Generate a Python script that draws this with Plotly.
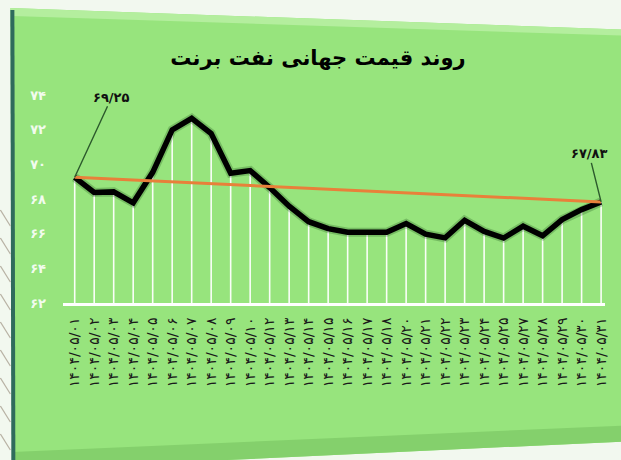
import plotly.graph_objects as go

# Brent crude daily price, Mordad 1404 (USD per barrel)
dates = [
    "۱۴۰۴/۰۵/۰۱", "۱۴۰۴/۰۵/۰۲", "۱۴۰۴/۰۵/۰۳", "۱۴۰۴/۰۵/۰۴", "۱۴۰۴/۰۵/۰۵",
    "۱۴۰۴/۰۵/۰۶", "۱۴۰۴/۰۵/۰۷", "۱۴۰۴/۰۵/۰۸", "۱۴۰۴/۰۵/۰۹", "۱۴۰۴/۰۵/۱۰",
    "۱۴۰۴/۰۵/۱۲", "۱۴۰۴/۰۵/۱۳", "۱۴۰۴/۰۵/۱۴", "۱۴۰۴/۰۵/۱۵", "۱۴۰۴/۰۵/۱۶",
    "۱۴۰۴/۰۵/۱۷", "۱۴۰۴/۰۵/۱۸", "۱۴۰۴/۰۵/۲۰", "۱۴۰۴/۰۵/۲۱", "۱۴۰۴/۰۵/۲۲",
    "۱۴۰۴/۰۵/۲۳", "۱۴۰۴/۰۵/۲۴", "۱۴۰۴/۰۵/۲۵", "۱۴۰۴/۰۵/۲۷", "۱۴۰۴/۰۵/۲۸",
    "۱۴۰۴/۰۵/۲۹", "۱۴۰۴/۰۵/۳۰", "۱۴۰۴/۰۵/۳۱",
]
prices = [
    69.25, 68.38, 68.41, 67.78, 69.54, 71.99, 72.65, 71.78, 69.49, 69.64,
    68.66, 67.58, 66.69, 66.29, 66.08, 66.06, 66.08, 66.58, 65.97, 65.76,
    66.77, 66.13, 65.75, 66.43, 65.88, 66.81, 67.39, 67.83,
]
first_label = "۶۹/۲۵"
last_label = "۶۷/۸۳"

y_ticks = [62, 64, 66, 68, 70, 72, 74]
y_tick_text = ["۶۲", "۶۴", "۶۶", "۶۸", "۷۰", "۷۲", "۷۴"]

title = "روند قیمت جهانی نفت برنت"

GREEN = "#97E47D"
FONT = "DejaVu Sans"

W, H = 621, 460
L, R, T, B = 63, 12, 95, 157
PW, PH = W - L - R, H - T - B


def px(x):
    return (x - L) / PW


def py(y):
    return (H - B - y) / PH


fig = go.Figure()

# white drop lines from each point to the base
drop_x, drop_y = [], []
for d, p in zip(dates, prices):
    drop_x += [d, d, None]
    drop_y += [y_ticks[0], p, None]
fig.add_trace(go.Scatter(
    x=drop_x, y=drop_y, mode="lines",
    line=dict(color="rgba(255,255,255,0.95)", width=1.6),
    hoverinfo="skip", showlegend=False,
))

# soft shadow under the price line
fig.add_trace(go.Scatter(
    x=dates, y=prices, mode="lines",
    line=dict(color="rgba(20,70,20,0.25)", width=9),
    hoverinfo="skip", showlegend=False,
))
fig.add_trace(go.Scatter(
    x=dates, y=prices, mode="lines",
    line=dict(color="#000000", width=5.5),
    showlegend=False,
))

# straight trend from first to last close
fig.add_trace(go.Scatter(
    x=[dates[0], dates[-1]], y=[prices[0], prices[-1]], mode="lines",
    line=dict(color="#E8803A", width=3),
    showlegend=False,
))

fig.add_annotation(
    x=dates[0], y=prices[0], text=first_label,
    showarrow=True, arrowhead=0, arrowwidth=1.4, arrowcolor="#2C5A2C",
    ax=37, ay=-80,
    font=dict(family=FONT, size=13, color="#111111", weight="bold"),
)
fig.add_annotation(
    x=dates[-1], y=prices[-1], text=last_label,
    showarrow=True, arrowhead=0, arrowwidth=1.4, arrowcolor="#2C5A2C",
    ax=-12, ay=-48,
    font=dict(family=FONT, size=13, color="#111111", weight="bold"),
)

# slide card behind the chart
card = (f"M {px(10)} {py(8)} L {px(640)} {py(30)} L {px(640)} {py(441)} "
        f"L {px(12)} {py(470)} Z")
edge = (f"M {px(12)} {py(452)} L {px(640)} {py(425)} L {px(640)} {py(441)} "
        f"L {px(12)} {py(470)} Z")
top_edge = (f"M {px(10)} {py(8)} L {px(640)} {py(30)} L {px(640)} {py(36)} "
            f"L {px(12)} {py(16)} Z")
shapes = [
    dict(type="path", xref="paper", yref="paper", path=card,
         fillcolor=GREEN, line=dict(width=0), layer="below"),
    dict(type="path", xref="paper", yref="paper", path=edge,
         fillcolor="#84D06C", line=dict(width=0), layer="below"),
    dict(type="path", xref="paper", yref="paper", path=top_edge,
         fillcolor="#B4EE9E", line=dict(width=0), layer="below"),
    dict(type="line", xref="paper", yref="paper",
         x0=px(12), y0=py(10), x1=px(13), y1=py(470),
         line=dict(color="#2F6B5C", width=4), layer="below"),
]
for k in range(9):
    y0 = 210 + k * 28
    shapes.append(dict(type="line", xref="paper", yref="paper",
                       x0=px(0), y0=py(y0), x1=px(10), y1=py(y0 + 16),
                       line=dict(color="#b8b2a4", width=1.2), layer="below"))

fig.update_layout(
    width=W, height=H,
    margin=dict(l=L, r=R, t=T, b=B),
    paper_bgcolor="#F2F8EF",
    plot_bgcolor="rgba(0,0,0,0)",
    shapes=shapes,
    title=dict(text=title, x=0.512, xanchor="center", y=1 - 58 / H,
               yanchor="middle",
               font=dict(family=FONT, size=21, color="#000000", weight="bold")),
    xaxis=dict(
        type="category", range=[-0.6, 27.2], tickangle=-90,
        showgrid=False, zeroline=False, showline=True,
        linecolor="#FFFFFF", linewidth=3, ticks="",
        ticklabelstandoff=6,
        tickfont=dict(family=FONT, size=14, color="#1a1a1a"),
    ),
    yaxis=dict(
        range=[62, 74], tickvals=y_ticks, ticktext=y_tick_text,
        showgrid=False, zeroline=False, showline=False, ticks="",
        ticklabelstandoff=16,
        tickfont=dict(family=FONT, size=13, color="rgba(255,255,255,0.9)",
                      weight="bold"),
    ),
)

fig.write_html("out.html")
